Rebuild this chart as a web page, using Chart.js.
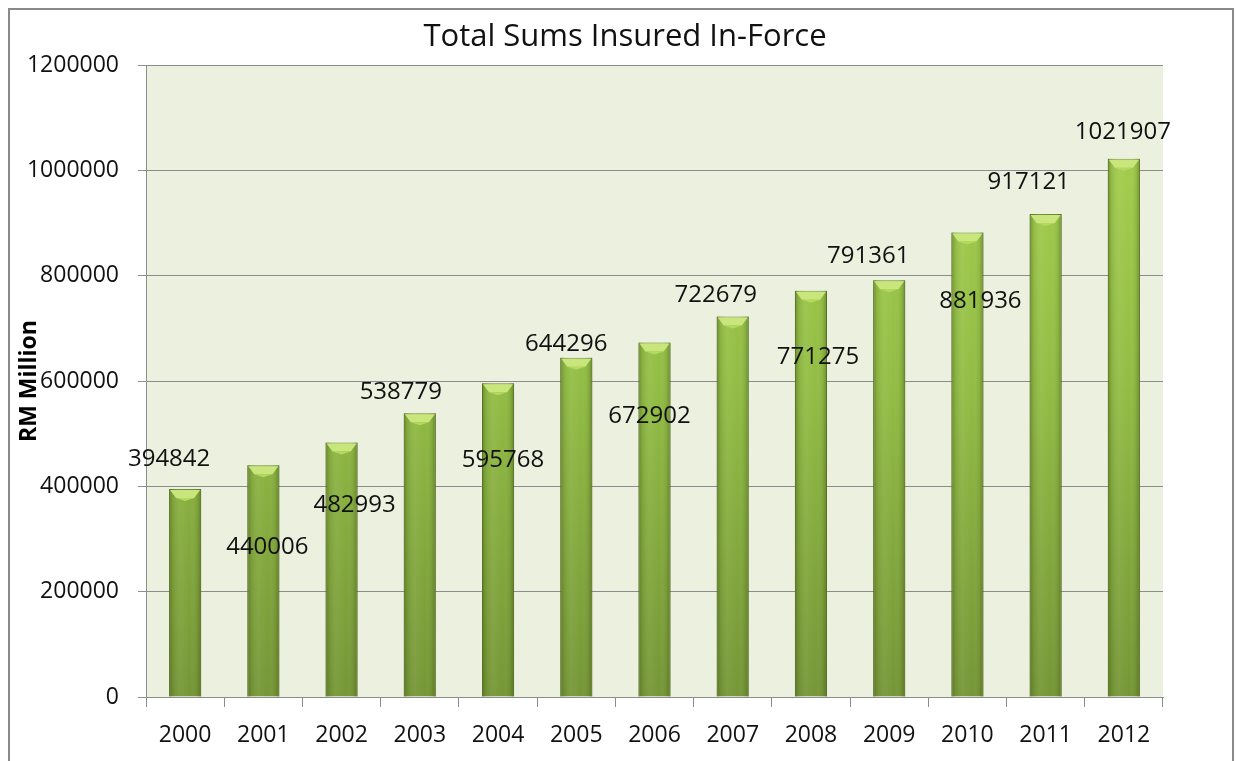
<!DOCTYPE html>
<html>
<head>
<meta charset="utf-8">
<script src="https://cdn.jsdelivr.net/npm/chart.js@4"></script>
<style>
  body { margin: 0; background: #fff; }
  #wrap { position: relative; width: 1236px; height: 761px; }
</style>
</head>
<body>
<div id="wrap"><canvas id="chart" width="1236" height="761"></canvas></div>
<script>
// data
const years = ['2000','2001','2002','2003','2004','2005','2006','2007','2008','2009','2010','2011','2012'];
const sumsInsured = [394842, 440006, 482993, 538779, 595768, 644296, 672902, 722679, 771275, 791361, 881936, 917121, 1021907];
const yTicks = [0, 200000, 400000, 600000, 800000, 1000000, 1200000];

// where each value label sits relative to the top of its bar (px)
const labelShiftX = [-16, 4, 13, -19, 5, -10, -5, -17, 7, -21, 13, -17, -1];
const labelShiftY = [-30, 82, 63, -21, 77, -14, 74, -21, 66, -24, 69, -32, -27];

const FONT = '"Open Sans", sans-serif';

// frame + plot background + title
const backdrop = {
  id: 'backdrop',
  beforeDraw(c) {
    const ctx = c.ctx, a = c.chartArea;
    ctx.save();
    ctx.fillStyle = '#ebf0df';
    ctx.fillRect(a.left, a.top, a.right - a.left, a.bottom - a.top);
    ctx.strokeStyle = '#8a8a8a';
    ctx.lineWidth = 2;
    ctx.strokeRect(9, 9, 1224, 800);
    ctx.fillStyle = '#111';
    ctx.font = '31px ' + FONT;
    ctx.textAlign = 'center';
    ctx.textBaseline = 'middle';
    ctx.fillText('Total Sums Insured In-Force', 625, 37);
    ctx.restore();
  }
};

// cylinder shading, top bevel and value labels
const barDecor = {
  id: 'barDecor',
  afterDatasetsDraw(c) {
    const ctx = c.ctx;
    const bars = c.getDatasetMeta(0).data;
    ctx.save();
    bars.forEach((b) => {
      const w = b.width, l = b.x - w / 2, r = b.x + w / 2, top = b.y, bot = b.base;
      const g = ctx.createLinearGradient(l, 0, r, 0);
      g.addColorStop(0, 'rgba(60,80,20,0.45)');
      g.addColorStop(0.12, 'rgba(60,80,20,0.12)');
      g.addColorStop(0.35, 'rgba(255,255,255,0.06)');
      g.addColorStop(0.65, 'rgba(255,255,255,0.0)');
      g.addColorStop(0.88, 'rgba(60,80,20,0.12)');
      g.addColorStop(1, 'rgba(60,80,20,0.45)');
      ctx.fillStyle = g;
      ctx.fillRect(l, top, w, bot - top);
      // top bevel
      ctx.fillStyle = '#c9e67c';
      ctx.beginPath();
      ctx.moveTo(l + 1, top + 1);
      ctx.lineTo(r - 1, top + 1);
      ctx.lineTo(r - 7, top + 9);
      ctx.lineTo(l + 7, top + 9);
      ctx.closePath();
      ctx.fill();
      ctx.fillStyle = '#b4d95c';
      ctx.beginPath();
      ctx.moveTo(l + 7, top + 9);
      ctx.lineTo(r - 7, top + 9);
      ctx.lineTo(b.x, top + 12);
      ctx.closePath();
      ctx.fill();
    });
    ctx.fillStyle = '#111';
    ctx.font = '24px ' + FONT;
    ctx.textAlign = 'center';
    ctx.textBaseline = 'middle';
    bars.forEach((b, i) => {
      ctx.fillText(String(sumsInsured[i]), b.x + labelShiftX[i], b.y + labelShiftY[i]);
    });
    ctx.restore();
  }
};

new Chart(document.getElementById('chart'), {
  type: 'bar',
  data: {
    labels: years,
    datasets: [{
      data: sumsInsured,
      backgroundColor: (ctx) => {
        const a = ctx.chart.chartArea;
        if (!a) return '#8db442';
        const g = ctx.chart.ctx.createLinearGradient(0, a.top, 0, a.bottom);
        g.addColorStop(0, '#a9d34f');
        g.addColorStop(0.5, '#92bd44');
        g.addColorStop(1, '#759636');
        return g;
      },
      borderColor: '#6a8a2c',
      borderWidth: 1,
      categoryPercentage: 1,
      barPercentage: 0.41
    }]
  },
  plugins: [backdrop, barDecor],
  options: {
    responsive: false,
    animation: false,
    layout: { padding: { top: 65, right: 73, left: 0, bottom: 0 } },
    plugins: { legend: { display: false }, tooltip: { enabled: false } },
    scales: {
      x: {
        grid: { offset: true, drawOnChartArea: false, drawTicks: true, tickLength: 10, color: '#8c8c8c' },
        border: { color: '#8c8c8c' },
        ticks: { color: '#111', font: { family: FONT, size: 23 }, padding: 15 },
        afterFit: (s) => { s.height = 64; }
      },
      y: {
        min: 0,
        max: 1200000,
        afterBuildTicks: (s) => { s.ticks = yTicks.map(v => ({ value: v })); },
        grid: { color: '#8c8c8c', tickLength: 8 },
        border: { color: '#8c8c8c' },
        ticks: { color: '#111', font: { family: FONT, size: 23 }, padding: 19, callback: (v) => String(v) },
        title: { display: true, text: 'RM Million', color: '#000', font: { family: FONT, size: 23, weight: 'bold' }, padding: { top: 16 } },
        afterFit: (s) => { s.width = 146; }
      }
    }
  }
});
</script>
</body>
</html>
